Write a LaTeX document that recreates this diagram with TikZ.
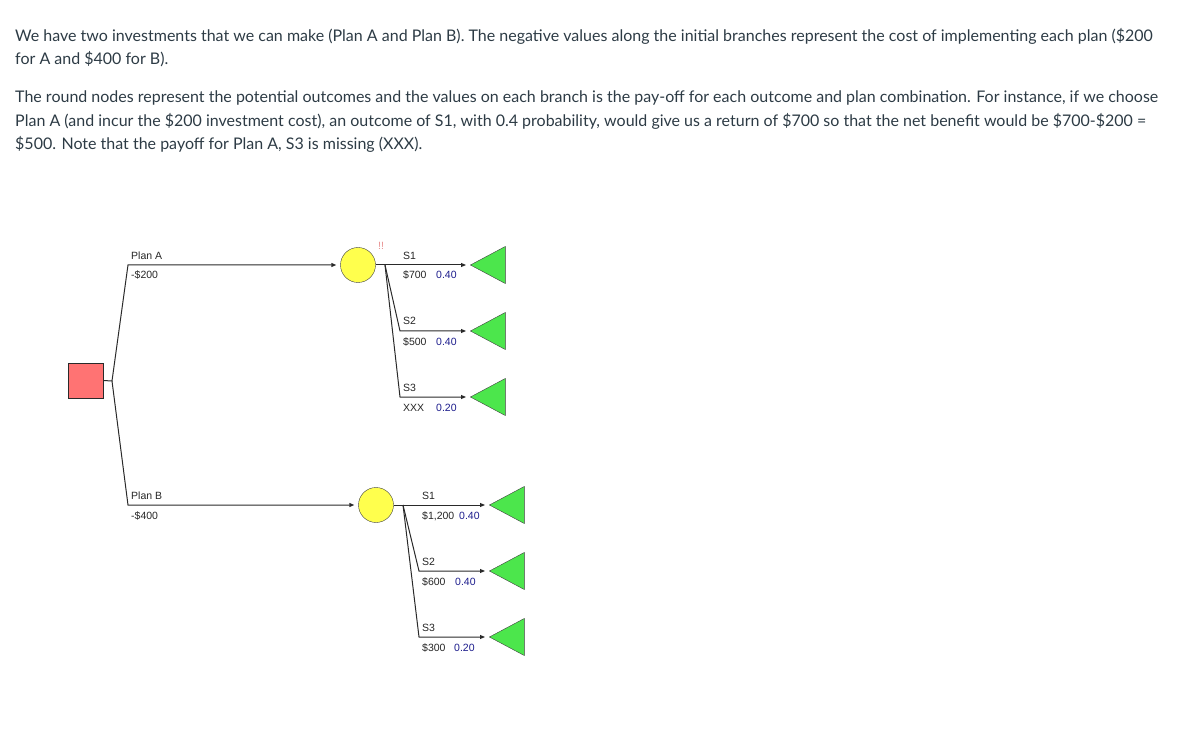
\documentclass[tikz,border=0pt]{standalone}
\usepackage{fontspec}
\setmainfont{Lato}
\newfontfamily\arialfont{Liberation Sans}
\usepackage{tikz}
\usetikzlibrary{positioning,arrows.meta,shapes.geometric,calc}
\usepackage{xcolor}
\definecolor{inktext}{HTML}{2D3B45}
\definecolor{salmon}{HTML}{FF7373}
\definecolor{chanceyel}{HTML}{FFFF4D}
\definecolor{leafgreen}{HTML}{4CE64C}
\definecolor{probblue}{HTML}{1C1C8C}
\definecolor{warnpink}{HTML}{E89090}
\definecolor{linegray}{HTML}{2A2A2A}

\tikzset{
  decision/.style={draw=linegray, fill=salmon, minimum size=35pt, inner sep=0pt},
  chance/.style={circle, draw=black!75, fill=chanceyel, minimum size=35pt, inner sep=0pt},
  terminal/.style={isosceles triangle, isosceles triangle apex angle=56, shape border rotate=180,
    draw=black!75, fill=leafgreen, minimum height=35pt, inner sep=0pt},
  branch/.style={draw=linegray, line width=1pt, -{Triangle[length=5pt,width=4pt]}, shorten >=4pt},
  lbl/.style={font=\arialfont\fontsize{10.5}{12}\selectfont, text=black!85, anchor=base west, inner sep=0pt},
  prob/.style={lbl, text=probblue},
  para/.style={font=\fontsize{16}{23.5}\selectfont, text=inktext, anchor=base west, align=left, inner sep=0pt}
}

\begin{document}
\begin{tikzpicture}[x=1pt, y=-1pt]
    \useasboundingbox (0,0) rectangle (1181,735);

    % anchored at the baseline of the last line
    \node[para] (intro) at (15,65) {We have two investments that we can make (Plan A and Plan B). The negative values along the initial branches represent the cost of implementing each plan (\$200\\for A and \$400 for B).};
    \node[para] (explain) at (15,150) {The round nodes represent the potential outcomes and the values on each branch is the pay-off for each outcome and plan combination. For instance, if we choose\\Plan A (and incur the \$200 investment cost), an outcome of S1, with 0.4 probability, would give us a return of \$700 so that the net benefit would be \$700-\$200 =\\\$500. Note that the payoff for Plan A, S3 is missing (XXX).};

    % decision and chance nodes
    \node[decision] (dec) at (85.5,380.5) {};
    \coordinate (fork) at (112,381);
    \coordinate (kneeA) at (128,265);
    \coordinate (kneeB) at (128,505);
    \node[chance] (chA) at (358,265) {};
    \node[chance] (chB) at (376,505) {};

    \draw[branch] (dec.east) -- (fork) -- (kneeA) -- (chA.west);
    \draw[branch] (fork) -- (kneeB) -- (chB.west);

    \node[lbl] (planA) at (131,259.5) {Plan A};
    \node[lbl] (costA) at (131,279) {-\$200};
    \node[lbl] (planB) at (131,499.5) {Plan B};
    \node[lbl] (costB) at (131,519) {-\$400};
    \node[lbl, text=warnpink] (warnA) at (378,250) {!!};

    % Plan A outcomes
    \coordinate (splitA) at (385,265);
    \coordinate (kneeA2) at (400,331);
    \coordinate (kneeA3) at (400,397);
    \node[terminal, anchor=apex] (leafA1) at (470,265) {};
    \node[terminal, anchor=apex] (leafA2) at (470,331) {};
    \node[terminal, anchor=apex] (leafA3) at (470,397) {};
    \draw[branch] (chA.east) -- (leafA1.apex);
    \draw[branch] (splitA) -- (kneeA2) -- (leafA2.apex);
    \draw[branch] (splitA) -- (kneeA3) -- (leafA3.apex);

    \node[lbl] (sA1) at (403,259.5) {S1};
    \node[lbl] (payA1) at (403,279) {\$700};
    \node[prob] (pA1) at (436,279) {0.40};
    \node[lbl] (sA2) at (403,325) {S2};
    \node[lbl] (payA2) at (403,345) {\$500};
    \node[prob] (pA2) at (436,345) {0.40};
    \node[lbl] (sA3) at (403,391) {S3};
    \node[lbl] (payA3) at (403,411) {XXX};
    \node[prob] (pA3) at (436,411) {0.20};

    % Plan B outcomes
    \coordinate (splitB) at (403,505);
    \coordinate (kneeB2) at (419,571);
    \coordinate (kneeB3) at (419,637);
    \node[terminal, anchor=apex] (leafB1) at (489,505) {};
    \node[terminal, anchor=apex] (leafB2) at (489,571) {};
    \node[terminal, anchor=apex] (leafB3) at (489,637) {};
    \draw[branch] (chB.east) -- (leafB1.apex);
    \draw[branch] (splitB) -- (kneeB2) -- (leafB2.apex);
    \draw[branch] (splitB) -- (kneeB3) -- (leafB3.apex);

    \node[lbl] (sB1) at (422,499.5) {S1};
    \node[lbl] (payB1) at (422,519) {\$1,200};
    \node[prob] (pB1) at (459,519) {0.40};
    \node[lbl] (sB2) at (422,565) {S2};
    \node[lbl] (payB2) at (422,585) {\$600};
    \node[prob] (pB2) at (455,585) {0.40};
    \node[lbl] (sB3) at (422,631) {S3};
    \node[lbl] (payB3) at (422,651) {\$300};
    \node[prob] (pB3) at (454,651) {0.20};
\end{tikzpicture}
\end{document}
